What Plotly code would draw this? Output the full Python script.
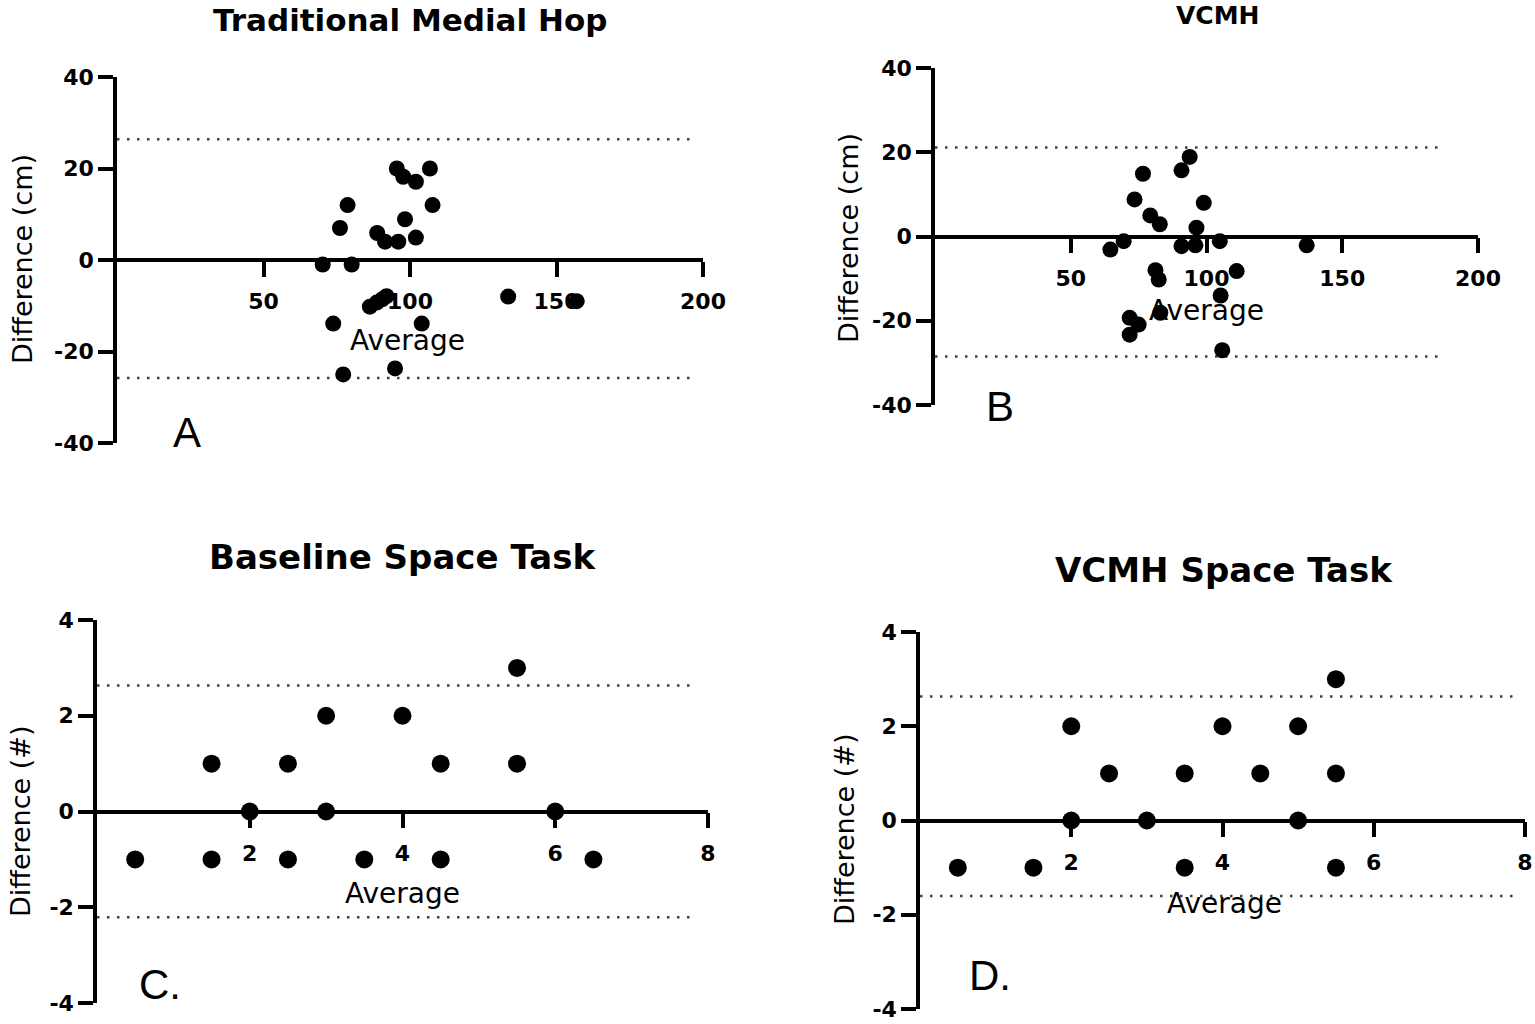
import plotly.graph_objects as go

# ---------------- data ----------------
A_avg = [95.5, 97.7, 102, 106.8, 78.7, 107.7, 76.1, 98.3, 88.8, 91.5, 96, 102, 70.2, 80.1,
         86.3, 88.6, 90.5, 92, 133.5, 156.9, 73.8, 104, 77.2, 94.9]
A_diff = [20, 18.2, 17.1, 20, 12, 12, 7, 8.9, 5.9, 4, 4, 4.9, -1, -1,
          -10.2, -9.3, -8.6, -7.9, -8, -9, -13.9, -13.9, -25, -23.7]
A_limits = [26.4, -25.8]

B_avg = [93.8, 90.8, 76.6, 73.5, 99, 79.3, 82.8, 96.3, 69.5, 64.6, 90.8, 95.9, 104.9, 136.9,
         81.2, 82.4, 111.1, 105.2, 83, 71.7, 75, 71.7, 105.8]
B_diff = [18.9, 15.7, 14.9, 8.8, 8, 5, 2.9, 2.1, -1.1, -3.1, -2.3, -2.1, -1.1, -2.1,
          -8, -10.2, -8.2, -14, -18.1, -19.3, -20.9, -23.3, -27]
B_limits = [21.1, -28.5]

C_avg = [0.5, 1.5, 1.5, 2, 2.5, 2.5, 3, 3, 3.5, 4, 4.5, 4.5, 5.5, 5.5, 6, 6.5]
C_diff = [-1, 1, -1, 0, 1, -1, 2, 0, -1, 2, 1, -1, 3, 1, 0, -1]
C_limits = [2.63, -2.21]

D_avg = [0.5, 1.5, 2, 2, 2.5, 3, 3.5, 3.5, 4, 4.5, 5, 5, 5.5, 5.5, 5.5]
D_diff = [-1, -1, 2, 0, 1, 0, 1, -1, 2, 1, 2, 0, 3, 1, -1]
D_limits = [2.63, -1.6]

titles = ["Traditional Medial Hop", "VCMH", "Baseline Space Task", "VCMH Space Task"]
letters = ["A", "B", "C.", "D."]
y_titles = ["Difference (cm)", "Difference (cm)", "Difference (#)", "Difference (#)"]
x_title = "Average"
cm_xticks = [50, 100, 150, 200]
cm_yticks = [40, 20, 0, -20, -40]
n_xticks = [2, 4, 6, 8]
n_yticks = [4, 2, 0, -2, -4]

# ---------------- layout helpers (pixels) ----------------
W, H = 1535, 1024
def px_x(p): return p / W
def px_y(p): return 1 - p / H

panels = [
    dict(avg=A_avg, diff=A_diff, lim=A_limits, xr=[0, 200], yr=[-40, 40],
         xt=cm_xticks, yt=cm_yticks, xd=(117, 703), yd=(77, 443), lim_x=[0, 197],
         title_xy=(410, 20), tsize=31, letter_xy=(187, 432), ytitle_xy=(22, 259),
         xtitle_xy=(408, 340), ms=16),
    dict(avg=B_avg, diff=B_diff, lim=B_limits, xr=[0, 200], yr=[-40, 40],
         xt=cm_xticks, yt=cm_yticks, xd=(935, 1478), yd=(68, 405), lim_x=[0, 186],
         title_xy=(1218, 15), tsize=25, letter_xy=(1000, 406), ytitle_xy=(848, 238),
         xtitle_xy=(1206, 310), ms=16),
    dict(avg=C_avg, diff=C_diff, lim=C_limits, xr=[0, 8], yr=[-4, 4],
         xt=n_xticks, yt=n_yticks, xd=(97, 708), yd=(620, 1003), lim_x=[0, 7.85],
         title_xy=(403, 557), tsize=34, letter_xy=(160, 984), ytitle_xy=(20, 822),
         xtitle_xy=(403, 893), ms=18),
    dict(avg=D_avg, diff=D_diff, lim=D_limits, xr=[0, 8], yr=[-4, 4],
         xt=n_xticks, yt=n_yticks, xd=(920, 1525), yd=(632, 1009), lim_x=[0, 7.85],
         title_xy=(1224, 570), tsize=34, letter_xy=(990, 975), ytitle_xy=(844, 830),
         xtitle_xy=(1224, 903), ms=18),
]

fig = go.Figure()
annotations = []
FONT = "DejaVu Sans, sans-serif"
LFONT = "Liberation Sans, Arial, sans-serif"

for i, p in enumerate(panels, start=1):
    xa = "x" if i == 1 else f"x{i}"
    ya = "y" if i == 1 else f"y{i}"
    xkey = "xaxis" if i == 1 else f"xaxis{i}"
    ykey = "yaxis" if i == 1 else f"yaxis{i}"
    ydom = [px_y(p["yd"][1]), px_y(p["yd"][0])]
    xdom = [px_x(p["xd"][0]), px_x(p["xd"][1])]
    frac0 = (0 - p["yr"][0]) / (p["yr"][1] - p["yr"][0])
    pos0 = ydom[0] + frac0 * (ydom[1] - ydom[0])

    for lv in p["lim"]:
        fig.add_trace(go.Scatter(x=p["lim_x"], y=[lv, lv], mode="lines",
                                 line=dict(color="#404040", width=2.5, dash="2.5px,7.5px"),
                                 xaxis=xa, yaxis=ya, showlegend=False, hoverinfo="skip"))
    fig.add_trace(go.Scatter(x=p["avg"], y=p["diff"], mode="markers",
                             marker=dict(color="black", size=p["ms"]),
                             xaxis=xa, yaxis=ya, showlegend=False))

    fig.layout[xkey] = dict(domain=xdom, range=p["xr"], anchor="free", position=pos0,
                            showgrid=False, zeroline=False, showline=True, linecolor="black",
                            linewidth=3.5, ticks="outside", ticklen=15, tickwidth=3.5,
                            tickcolor="black", tickvals=p["xt"],
                            ticktext=[str(v) for v in p["xt"]], ticklabelstandoff=6,
                            tickfont=dict(family=FONT, size=22, color="black", weight="bold"))
    fig.layout[ykey] = dict(domain=ydom, range=p["yr"], anchor=xa,
                            showgrid=False, zeroline=False, showline=True, linecolor="black",
                            linewidth=3.5, ticks="outside", ticklen=15, tickwidth=3.5,
                            tickcolor="black", tickvals=p["yt"],
                            ticktext=[str(v) for v in p["yt"]], ticklabelstandoff=0,
                            tickfont=dict(family=FONT, size=22, color="black", weight="bold"))

    annotations.append(dict(text=f"<b>{titles[i-1]}</b>", x=px_x(p["title_xy"][0]), y=px_y(p["title_xy"][1]),
                            xref="paper", yref="paper", showarrow=False, xanchor="center", yanchor="middle",
                            font=dict(family=FONT, size=p["tsize"], color="black")))
    annotations.append(dict(text=letters[i-1], x=px_x(p["letter_xy"][0]), y=px_y(p["letter_xy"][1]),
                            xref="paper", yref="paper", showarrow=False, xanchor="center", yanchor="middle",
                            font=dict(family=LFONT, size=42, color="black")))
    annotations.append(dict(text=y_titles[i-1], x=px_x(p["ytitle_xy"][0]), y=px_y(p["ytitle_xy"][1]),
                            xref="paper", yref="paper", showarrow=False, xanchor="center", yanchor="middle",
                            textangle=-90, font=dict(family=FONT, size=27, color="black")))
    annotations.append(dict(text=x_title, x=px_x(p["xtitle_xy"][0]), y=px_y(p["xtitle_xy"][1]),
                            xref="paper", yref="paper", showarrow=False, xanchor="center", yanchor="middle",
                            font=dict(family=FONT, size=28, color="black")))

fig.update_layout(width=W, height=H, margin=dict(l=0, r=0, t=0, b=0, autoexpand=False),
                  paper_bgcolor="white", plot_bgcolor="white",
                  annotations=annotations, showlegend=False)

fig.write_html("out.html", config={"displayModeBar": False},
               post_script="document.body.style.margin='0px'; document.body.style.overflow='hidden';")
